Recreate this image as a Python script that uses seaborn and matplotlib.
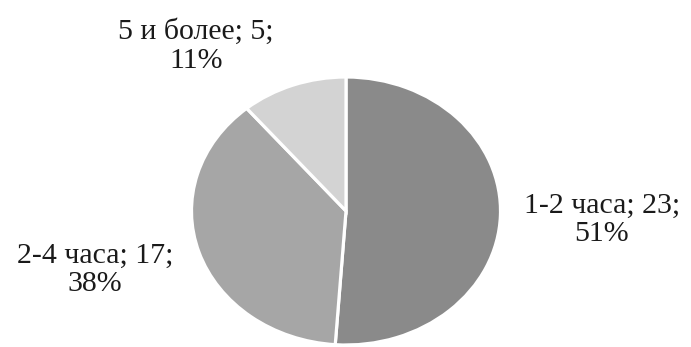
import matplotlib
matplotlib.use("Agg")
import matplotlib.pyplot as plt
import seaborn as sns

categories = ["1-2 часа", "2-4 часа", "5 и более"]
counts = [23, 17, 5]
percents = [51, 38, 11]
colors = ["#8a8a8a", "#a6a6a6", "#d3d3d3"]

sns.set_theme(style="white")
plt.rcParams["font.family"] = ["Liberation Serif", "DejaVu Serif"]

W, H = 691, 347
fig = plt.figure(figsize=(W / 100, H / 100), dpi=100)
fig.patch.set_facecolor("white")

cx, cy = 346, 211          # pie centre in pixels (from top)
rx, ry = 154.5, 134        # elliptical radii in pixels
ax = fig.add_axes([(cx - rx) / W, 1 - (cy + ry) / H, 2 * rx / W, 2 * ry / H])

wedges, _ = ax.pie(counts, colors=colors, startangle=90, counterclock=False,
                   wedgeprops=dict(edgecolor="white", linewidth=2.3))
ax.set_aspect("auto")
ax.set_xlim(-1, 1)
ax.set_ylim(-1, 1)
ax.axis("off")

label_pos = [(602, 220), (95, 270), (196, 46)]
for (px, py), cat, n, p in zip(label_pos, categories, counts, percents):
    fig.text(px / W, 1 - py / H, f"{cat}; {n};\n{p}%", ha="center", va="center",
             fontsize=21.5, color="#1a1a1a", linespacing=1.12)

fig.savefig("out.png", dpi=100, facecolor="white")
